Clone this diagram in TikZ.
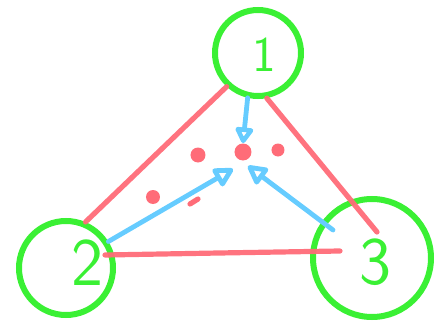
\documentclass[tikz,border=0pt]{standalone}
\usetikzlibrary{arrows.meta,calc,shapes.geometric}
\definecolor{penGreen}{RGB}{58,240,52}
\definecolor{penRed}{RGB}{255,108,120}
\definecolor{penBlue}{RGB}{102,204,255}
\tikzset{
  bubble/.style={circle, draw=penGreen, line width=3pt, inner sep=0pt,
                 minimum size=#1},
  num/.style={text=penGreen, font=\sffamily\fontsize{34}{34}\selectfont},
  edge/.style={penRed, line width=2.6pt, line cap=round, opacity=0.95},
  arrow/.style={-{Triangle[open,length=11pt,width=11pt,round]}, penBlue,
                line width=2.4pt, line cap=round, line join=round},
  dot/.style={ellipse, fill=penRed, inner sep=0pt, minimum width=#1,
              minimum height=#1},
}

\begin{document}
\begin{tikzpicture}[x=0.5pt, y=-0.5pt]
\useasboundingbox (0,0) rectangle (436,322);

% -------------------- circles --------------------
\node[bubble=43pt, label={[num, font=\sffamily\fontsize{25}{25}\selectfont,
      xshift=3pt, yshift=-1pt]center:1}] (n1) at (258,53) {};
\node[bubble=47pt, label={[num, xshift=10.5pt, yshift=2.5pt]center:2}]
      (n2) at (66,268) {};
\node[bubble=59pt, label={[num, xshift=1.5pt, yshift=-2pt]center:3}]
      (n3) at (372,258) {};

% -------------------- red triangle --------------------
\draw[edge] (n1.227) -- (n2.67);
\draw[edge] (n1.281) -- ($(n3.center)+(5,-26)$);
\draw[edge] ($(n2.center)+(39,-13)$) -- ($(n2.center)!0.5!(n3.center)+(0,-10)$)
            -- ($(n3.center)+(-32,-7)$);

% -------------------- dots --------------------
\node[dot=8.5pt] (mid) at (243,152) {};
\node[dot=7.5pt] (dotL) at (198,155) {};
\node[dot=6.5pt] (dotR) at (278,150) {};
\node[dot=7pt] (dotLL) at (153,197) {};
\draw[penRed, line width=2.6pt, line cap=round] (190,204) -- (198,199);

% -------------------- blue arrows --------------------
\coordinate (tip2) at (233,169);
\coordinate (tip3) at (248,166);
\draw[arrow, -{Triangle[open,length=9pt,width=10pt,round]}] (n1.257) -- (mid.north);
\draw[arrow] (n2.32) -- (tip2);
\draw[arrow] ($(n3.center)+(-39,-28)$) -- (tip3);

\end{tikzpicture}
\end{document}
